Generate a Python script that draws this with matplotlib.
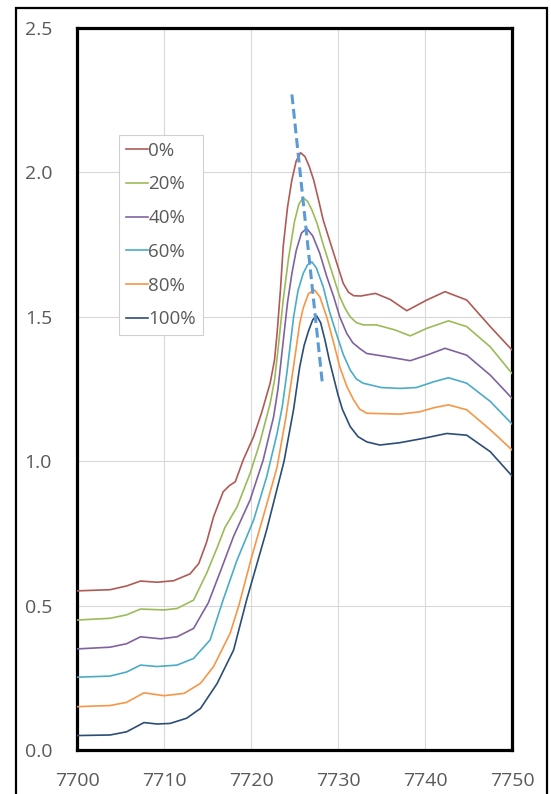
import matplotlib
matplotlib.use('Agg')
import matplotlib.pyplot as plt
from matplotlib.patches import Rectangle

plt.rcParams['font.family'] = ['Open Sans', 'DejaVu Sans']

series_labels = ['0%', '20%', '40%', '60%', '80%', '100%']
series_colors = ['#B05A55', '#9BBB59', '#7F63A0', '#4BACC6', '#F79646', '#2C4D75']

x_0 = [7700, 7703.8, 7705.7, 7707.3, 7709.2, 7711.1, 7713, 7714, 7714.9, 7715.7, 7716.8, 7717.5,
       7718.2, 7719.1, 7720.3, 7721.2, 7722.2, 7722.7, 7723, 7723.4, 7723.7, 7724.2, 7724.7,
       7725.2, 7725.7, 7726.2, 7726.7, 7727.2, 7727.8, 7728.3, 7729.5, 7730.6, 7731.2, 7731.8,
       7732.6, 7734.3, 7736, 7737.9, 7740.2, 7742.3, 7744.8, 7747.5, 7750]
y_0 = [0.551, 0.555, 0.568, 0.585, 0.581, 0.586, 0.610, 0.646, 0.720, 0.808, 0.894, 0.915,
       0.929, 1.004, 1.085, 1.166, 1.27, 1.35, 1.443, 1.60, 1.743, 1.88, 1.974,
       2.04, 2.068, 2.055, 2.02, 1.974, 1.90, 1.835, 1.72, 1.616, 1.585, 1.573,
       1.572, 1.581, 1.56, 1.521, 1.558, 1.587, 1.558, 1.466, 1.385]

x_20 = [7700, 7703.8, 7705.7, 7707.3, 7710, 7711.5, 7713.4, 7714.9, 7716.1, 7717, 7718.4, 7719.9,
        7721, 7722.2, 7722.7, 7723.1, 7723.7, 7724.3, 7725, 7725.5, 7726.0, 7726.5, 7727,
        7727.6, 7728.3, 7729.1, 7730.2, 7730.8, 7731.4, 7732.1, 7732.9, 7734.4, 7736.5, 7738.3,
        7740.2, 7742.7, 7744.8, 7747.5, 7750]
y_20 = [0.45, 0.456, 0.468, 0.488, 0.485, 0.49, 0.519, 0.612, 0.70, 0.77, 0.842, 0.958,
        1.062, 1.2, 1.28, 1.385, 1.558, 1.70, 1.83, 1.89, 1.912, 1.90, 1.87,
        1.823, 1.75, 1.674, 1.57, 1.53, 1.5, 1.48, 1.472, 1.472, 1.455, 1.434,
        1.46, 1.486, 1.466, 1.396, 1.304]

x_40 = [7700, 7703.8, 7705.7, 7707.3, 7709.6, 7711.5, 7713.4, 7715.1, 7716.5, 7718, 7719.9,
        7721.4, 7722.6, 7723.1, 7723.5, 7724.2, 7724.7, 7725.2, 7725.8, 7726.4, 7727.1, 7727.9,
        7728.7, 7729.5, 7730.2, 7731, 7731.7, 7732.5, 7733.3, 7735.6, 7738.3, 7740.2, 7742.3,
        7744.8, 7747.5, 7750]
y_40 = [0.35, 0.356, 0.368, 0.392, 0.385, 0.392, 0.421, 0.51, 0.62, 0.74, 0.866,
        1.004, 1.154, 1.25, 1.36, 1.55, 1.65, 1.73, 1.79, 1.806, 1.78, 1.72,
        1.64, 1.57, 1.5, 1.443, 1.41, 1.39, 1.373, 1.362, 1.348, 1.367, 1.391,
        1.367, 1.298, 1.218]

x_60 = [7700, 7703.8, 7705.7, 7707.3, 7709.2, 7711.5, 7713.4, 7715.3, 7716.8, 7718.4, 7720.3,
        7721.8, 7723, 7723.6, 7724.1, 7724.5, 7724.9, 7725.4, 7726, 7726.5, 7727, 7727.5,
        7728.3, 7729, 7729.8, 7730.6, 7731.4, 7732.1, 7732.9, 7735, 7737.1, 7739, 7741,
        7742.7, 7744.8, 7747.5, 7750]
y_60 = [0.252, 0.256, 0.27, 0.294, 0.289, 0.294, 0.317, 0.381, 0.52, 0.658, 0.796,
        0.946, 1.096, 1.19, 1.3, 1.40, 1.5, 1.59, 1.65, 1.68, 1.69, 1.67,
        1.604, 1.52, 1.443, 1.37, 1.316, 1.285, 1.27, 1.255, 1.252, 1.255, 1.275,
        1.289, 1.27, 1.207, 1.129]

x_80 = [7700, 7703.8, 7705.7, 7707.7, 7710, 7712.3, 7714.2, 7715.7, 7717.6, 7718.6, 7720,
        7721.8, 7723, 7724, 7724.9, 7725.6, 7726, 7726.6, 7727.3, 7727.9, 7728.7, 7729.5,
        7730.2, 7731, 7731.8, 7732.5, 7733.3, 7737.1, 7739.4, 7741, 7742.7, 7744.8, 7747.5,
        7750]
y_80 = [0.15, 0.154, 0.165, 0.198, 0.188, 0.196, 0.231, 0.289, 0.404, 0.50, 0.66,
        0.85, 0.98, 1.15, 1.33, 1.477, 1.53, 1.58, 1.593, 1.57, 1.5, 1.41,
        1.327, 1.26, 1.212, 1.18, 1.166, 1.163, 1.171, 1.185, 1.195, 1.178, 1.109,
        1.039]

x_100 = [7700, 7703.8, 7705.7, 7707.7, 7709.2, 7710.7, 7712.6, 7714.2, 7716.1, 7718, 7719.5,
         7721.8, 7723.8, 7724.9, 7725.6, 7726.1, 7726.6, 7727.1, 7727.55, 7728, 7728.5, 7729,
         7729.5, 7730, 7730.5, 7731.4, 7732.3, 7733.3, 7734.8, 7737.1, 7739.8, 7742.5, 7744.8,
         7747.5, 7750]
y_100 = [0.05, 0.052, 0.063, 0.095, 0.09, 0.092, 0.11, 0.144, 0.23, 0.346, 0.52,
         0.762, 1.0, 1.18, 1.327, 1.40, 1.45, 1.49, 1.503, 1.48, 1.42, 1.35,
         1.29, 1.23, 1.18, 1.12, 1.085, 1.067, 1.056, 1.064, 1.079, 1.096, 1.09,
         1.033, 0.949]

dash_x = [7724.7, 7728.2]
dash_y = [2.27, 1.27]

x_ticks = [7700, 7710, 7720, 7730, 7740, 7750]
y_ticks = [0.0, 0.5, 1.0, 1.5, 2.0, 2.5]

W, H = 551, 794
fig = plt.figure(figsize=(W / 100, H / 100), dpi=100)
ax = fig.add_axes([77 / W, (H - 750) / H, 435 / W, 722 / H])

all_x = [x_0, x_20, x_40, x_60, x_80, x_100]
all_y = [y_0, y_20, y_40, y_60, y_80, y_100]
for xs, ys, lab, col in zip(all_x, all_y, series_labels, series_colors):
    ax.plot(xs, ys, color=col, lw=1.2, label=lab, solid_joinstyle='round', zorder=3)

ax.plot(dash_x, dash_y, color='#5B9BD5', lw=2.2, linestyle=(0, (3.2, 1.6)), zorder=4)

ax.set_xlim(7700, 7750)
ax.set_ylim(0, 2.5)
ax.set_xticks(x_ticks)
ax.set_yticks(y_ticks)
ax.set_yticklabels([f'{v:.1f}' for v in y_ticks])
ax.grid(color='#D9D9D9', lw=0.8)
ax.set_axisbelow(True)
ax.tick_params(length=0, colors='#595959', labelsize=14)
ax.tick_params(axis='y', pad=18)
ax.tick_params(axis='x', pad=16)
for s in ax.spines.values():
    s.set_linewidth(2.3)
    s.set_color('black')

leg = ax.legend(loc='upper left', bbox_to_anchor=((119 - 77) / 435, (750 - 135) / 722),
                frameon=True, fancybox=False, edgecolor='#D0D0D0', framealpha=1,
                handlelength=1.17, handletextpad=0.05, labelspacing=0.84, borderpad=0.35,
                fontsize=13.5, borderaxespad=0)
for t in leg.get_texts():
    t.set_color('#595959')
leg.get_frame().set_linewidth(0.8)

fig.patches.append(Rectangle((16 / W, -0.02), 531 / W, 1 - 8 / H + 0.02,
                             transform=fig.transFigure, fill=False, lw=1.6, ec='black'))

fig.savefig('out.png', dpi=100)
